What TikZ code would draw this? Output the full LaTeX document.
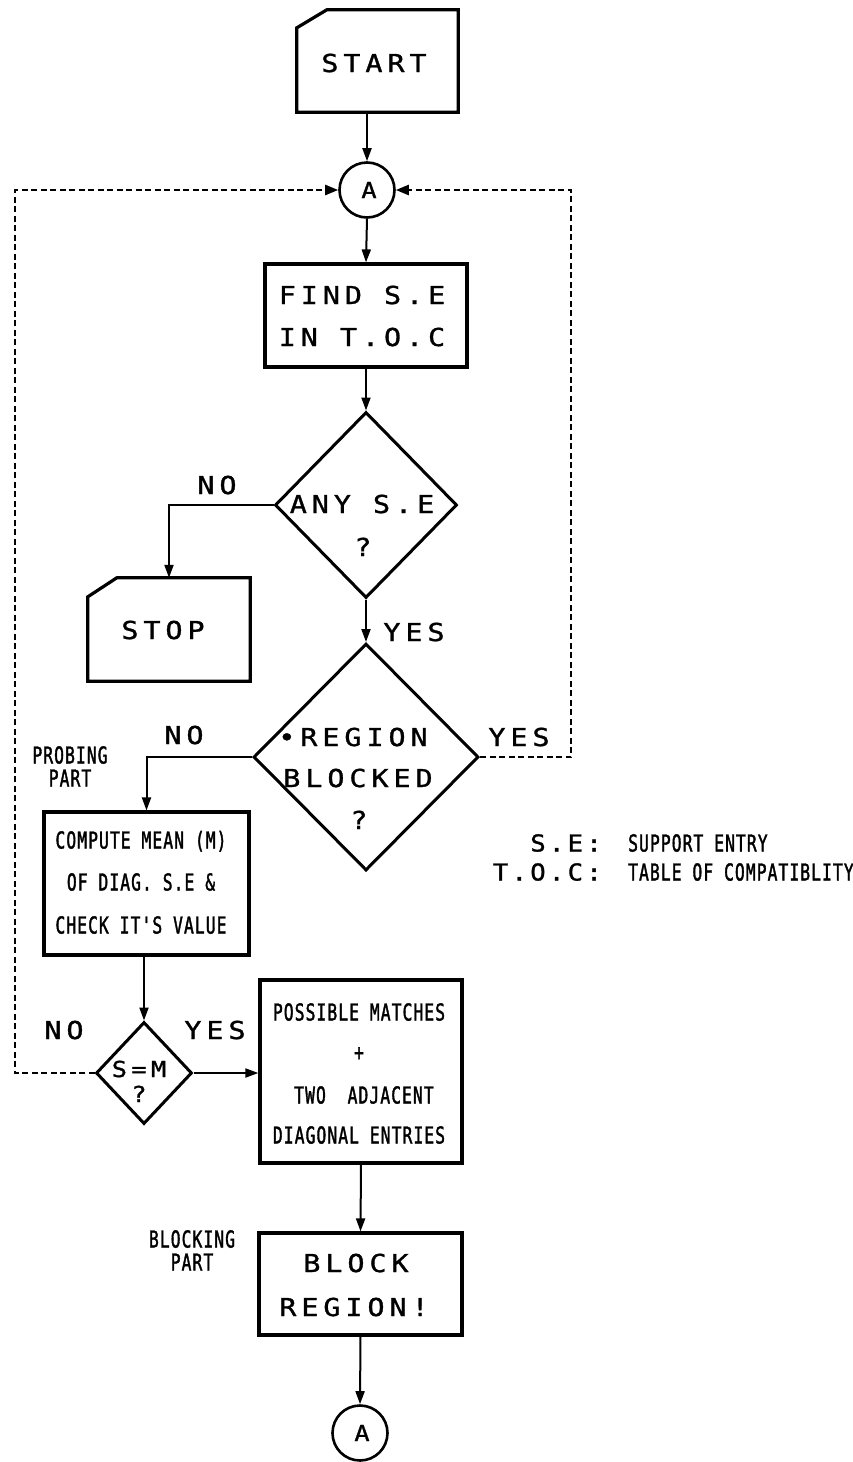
\documentclass[tikz,border=0pt]{standalone}
\usepackage{fontspec}
\usetikzlibrary{arrows.meta,shapes.geometric}
\newfontfamily\plotfont[FakeStretch=1.15,LetterSpace=20,FakeBold=1.2]{DejaVu Sans Mono}
\newfontfamily\condfont[FakeStretch=0.7,LetterSpace=4.6,FakeBold=1.5]{DejaVu Sans Mono}
\newfontfamily\legfont[FakeStretch=1.1,LetterSpace=14,FakeBold=1.2]{DejaVu Sans Mono}
\begin{document}
\begin{tikzpicture}[x=1pt,y=-1pt,
  box/.style={draw, line width=3.2pt, rectangle, inner sep=0pt},
  hidden/.style={rectangle, inner sep=0pt},
  dia/.style={draw, line width=3pt, diamond, inner sep=0pt},
  conn/.style={circle, draw, line width=2.6pt, inner sep=0pt, minimum size=55pt},
  outline/.style={line width=3.2pt, line join=miter},
  arr/.style={line width=2pt, -{Triangle[length=13pt,width=9pt]}},
  dashln/.style={line width=2.4pt, dash pattern=on 6pt off 3.5pt, -{Triangle[length=13pt,width=10pt]}},
  big/.style={font=\plotfont\fontsize{24.7}{26}\selectfont, inner sep=0pt, text height=18pt, text depth=0pt},
  mid/.style={font=\plotfont\fontsize{22}{24}\selectfont, inner sep=0pt, text height=16pt, text depth=0pt},
  small/.style={font=\condfont\fontsize{23.3}{24}\selectfont, inner sep=0pt, text height=17pt, text depth=0pt},
  leg/.style={font=\legfont\fontsize{23.3}{24}\selectfont, inner sep=0pt, text height=17pt, text depth=0pt},
  lettA/.style={font=\plotfont\fontsize{22}{24}\selectfont, inner sep=0pt, text height=16pt, text depth=0pt},
]
\useasboundingbox (0,0) rectangle (853,1462);

% START
\node[hidden, minimum width=161pt, minimum height=102pt] (start) at (377.5,61) {};
\draw[outline] ([yshift=-18pt]start.north west) -- ([xshift=30pt]start.north west) -- (start.north east) -- (start.south east) -- (start.south west) -- cycle;
\node[big] (tstart) at (374,63) {START};

% connector A (top)
\node[conn] (Aup) at (367,190) {};
\node[lettA] (tAup) at (369,190) {A};

% FIND
\node[box, minimum width=202pt, minimum height=103pt] (find) at (366,315.5) {};
\node[big] (tfind1) at (362,295) {FIND S.E};
\node[big] (tfind2) at (362,337) {IN T.O.C};

% ANY S.E diamond
\node[dia, minimum width=182pt, minimum height=186pt] (any) at (366,505) {};
\node[big] (tany1) at (362,504) {ANY S.E};
\node[big] (tany2) at (363,547) {?};

% STOP
\node[hidden, minimum width=162pt, minimum height=103pt] (stop) at (169,629.5) {};
\draw[outline] ([yshift=-19pt]stop.north west) -- ([xshift=29pt]stop.north west) -- (stop.north east) -- (stop.south east) -- (stop.south west) -- cycle;
\node[big] (tstop) at (163,630) {STOP};

% REGION BLOCKED diamond
\node[dia, minimum width=225pt, minimum height=227pt] (region) at (366,757) {};
\node[big] (treg1) at (353,737) {•REGION};
\node[big] (treg2) at (358,778) {BLOCKED};
\node[big] (treg3) at (359,820) {?};

% COMPUTE
\node[box, minimum width=205pt, minimum height=143pt] (compute) at (146.5,883.5) {};
\node[small] (tc1) at (141,840) {COMPUTE MEAN (M)};
\node[small] (tc2) at (141,882) {OF DIAG. S.E \&};
\node[small] (tc3) at (141,925) {CHECK IT'S VALUE};

% S=M diamond
\node[dia, minimum width=96pt, minimum height=102pt] (smd) at (144,1073) {};
\node[mid] (tsm1) at (139,1069) {S=M};
\node[mid] (tsm2) at (139,1094) {?};

% POSSIBLE MATCHES
\node[box, minimum width=202pt, minimum height=183pt] (possible) at (361,1071.5) {};
\node[small] (tp1) at (359,1012) {POSSIBLE MATCHES};
\node[small] (tp2) at (359,1052) {+};
\node[small] (tp3) at (364,1095) {TWO\ \ ADJACENT};
\node[small] (tp4) at (359,1135) {DIAGONAL ENTRIES};

% BLOCK REGION
\node[box, minimum width=203pt, minimum height=102pt] (block) at (360.5,1284) {};
\node[big] (tb1) at (356,1263) {BLOCK};
\node[big] (tb2) at (354,1307) {REGION!};

% connector A (bottom)
\node[conn] (Adown) at (360,1433) {};
\node[lettA] (tAdown) at (362,1433) {A};

% side labels
\node[small] (probing) at (70,755) {PROBING};
\node[small] (probpart) at (70,778) {PART};
\node[small] (blocking) at (192,1239) {BLOCKING};
\node[small] (blockpart) at (192,1262) {PART};

% YES / NO labels
\node[big] (no1) at (217,485) {NO};
\node[big] (yes1) at (414,632) {YES};
\node[big] (no2) at (184,735) {NO};
\node[big] (yes2) at (519,737) {YES};
\node[big] (no3) at (64,1030) {NO};
\node[big] (yes3) at (215,1030) {YES};

% legend
\node[leg, anchor=east] (lse) at (602,843) {S.E:};
\node[small, anchor=west] (lsetxt) at (628,843) {SUPPORT ENTRY};
\node[leg, anchor=east] (ltoc) at (602,872) {T.O.C:};
\node[small, anchor=west] (ltoctxt) at (628,872) {TABLE OF COMPATIBLITY};

% loop-back corners
\coordinate (lt) at (15,190);
\coordinate (rt) at (571,190);

% connectors
\draw[arr] (Aup |- start.south) -- (Aup.north);
\draw[arr] (Aup.south) -- (find.north);
\draw[arr] (find.south) -- (any.north);
\draw[arr] (any.west) -| (stop.north);
\draw[arr] (any.south) -- (region.north);
\draw[arr] (region.west) -| (compute.north);
\draw[arr] (smd |- compute.south) -- (smd.north);
\draw[arr] (smd.east) -- (smd.east -| possible.west);
\draw[arr] (possible.south) -- (block.north);
\draw[arr] (block.south) -- (Adown.north);
\draw[dashln] (smd.west) -| (lt) -- (Aup.west);
\draw[dashln] (region.east) -| (rt) -- (Aup.east);
\end{tikzpicture}
\end{document}
